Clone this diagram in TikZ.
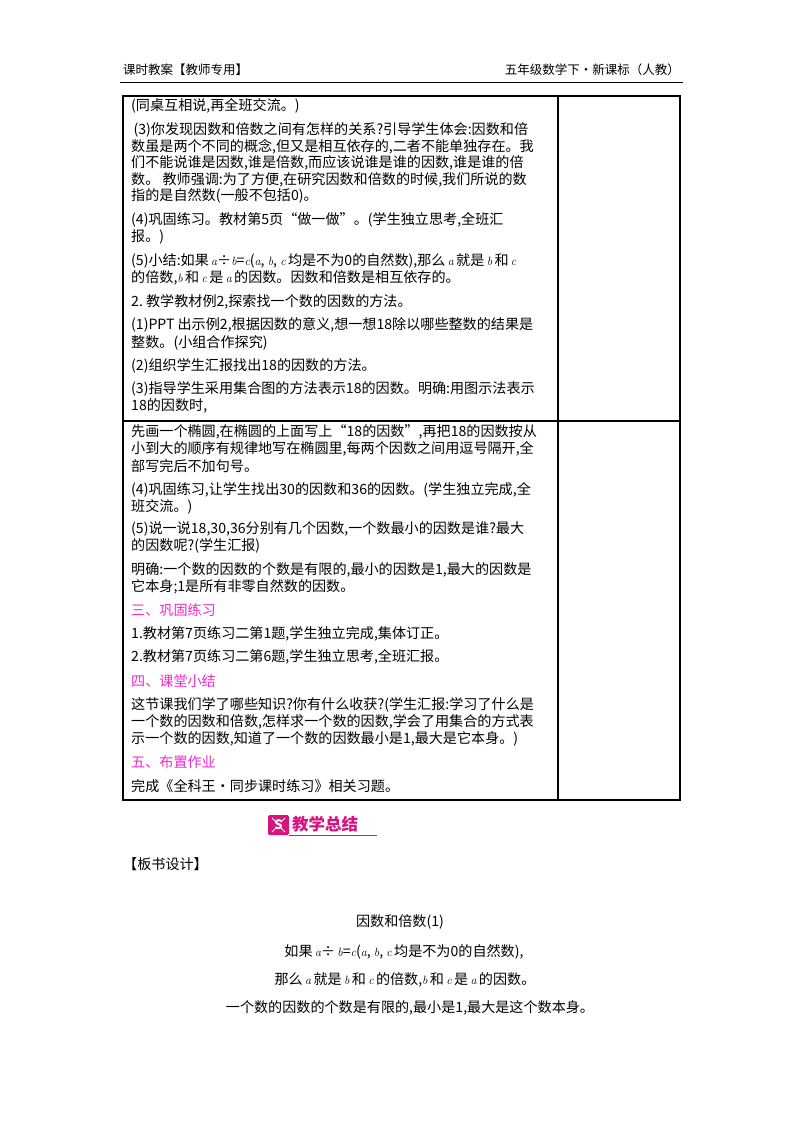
\documentclass[tikz,border=0pt]{standalone}
\usepackage{fontspec}
\setmainfont{Noto Sans CJK SC}
\newfontfamily\latinf{Latin Modern Roman}
\definecolor{pinkc}{HTML}{F02BD0}
\definecolor{logoc}{HTML}{D8127E}
\tikzset{
  tl/.style={anchor=west,inner sep=0pt,font=\fontsize{14.1}{16}\selectfont},
  hd/.style={tl,text=pinkc},
  ct/.style={anchor=center,inner sep=0pt,font=\fontsize{14.1}{16}\selectfont},
  frame/.style={line width=1.1pt}
}
\newcommand{\mi}[1]{{\latinf\itshape\large #1}}
\begin{document}
\begin{tikzpicture}[x=1pt,y=-1pt]
\useasboundingbox (0,0) rectangle (800,1132);
\fill[white] (0,0) rectangle (800,1132);
% header
\node[tl,font=\fontsize{12.5}{14}\selectfont] (h1) at (123,70) {课时教案【教师专用】};
\node[anchor=east,inner sep=0pt,font=\fontsize{12.5}{14}\selectfont] (h2) at (680,70) {五年级数学下·新课标（人教）};
\draw[line width=1pt] (120,82) -- (683,82);
% table
\draw[frame] (123,96) rectangle (680,800);
\draw[frame] (558,96) -- (558,800);
\draw[frame] (123,421) -- (680,421);
% upper block
\node[tl] (l1) at (131,106) {(同桌互相说,再全班交流。)};
\node[tl] (l2) at (131,130) {\,(3)你发现因数和倍数之间有怎样的关系?引导学生体会:因数和倍};
\node[tl] (l3) at (131,146.5) {数虽是两个不同的概念,但又是相互依存的,二者不能单独存在。我};
\node[tl] (l4) at (131,163) {们不能说谁是因数,谁是倍数,而应该说谁是谁的因数,谁是谁的倍};
\node[tl] (l5) at (131,179.5) {数。\ 教师强调:为了方便,在研究因数和倍数的时候,我们所说的数};
\node[tl] (l6) at (131,196) {指的是自然数(一般不包括0)。};
\node[tl] (l7) at (131,219.5) {(4)巩固练习。教材第5页“做一做”。(学生独立思考,全班汇};
\node[tl] (l8) at (131,236.5) {报。)};
\node[tl] (l9) at (131,261) {(5)小结:如果\,\mi{a}÷\mi{b}=\mi{c}(\mi{a}, \mi{b}, \mi{c}\,均是不为0的自然数),那么\,\mi{a}\,就是\,\mi{b}\,和\,\mi{c}};
\node[tl] (l10) at (131,278) {的倍数,\mi{b}\,和\,\mi{c}\,是\,\mi{a}\,的因数。因数和倍数是相互依存的。};
\node[tl] (l11) at (131,302) {2.\ 教学教材例2,探索找一个数的因数的方法。};
\node[tl] (l12) at (131,325) {(1)PPT 出示例2,根据因数的意义,想一想18除以哪些整数的结果是};
\node[tl] (l13) at (131,342.5) {整数。(小组合作探究)};
\node[tl] (l14) at (131,366) {(2)组织学生汇报找出18的因数的方法。};
\node[tl] (l15) at (131,389) {(3)指导学生采用集合图的方法表示18的因数。明确:用图示法表示};
\node[tl] (l16) at (131,406) {18的因数时,};
% lower block
\node[tl] (m1) at (131,432) {先画一个椭圆,在椭圆的上面写上“18的因数”,再把18的因数按从};
\node[tl] (m2) at (131,449) {小到大的顺序有规律地写在椭圆里,每两个因数之间用逗号隔开,全};
\node[tl] (m3) at (131,466) {部写完后不加句号。};
\node[tl] (m4) at (131,489.5) {(4)巩固练习,让学生找出30的因数和36的因数。(学生独立完成,全};
\node[tl] (m5) at (131,506.5) {班交流。)};
\node[tl] (m6) at (131,529) {(5)说一说18,30,36分别有几个因数,一个数最小的因数是谁?最大};
\node[tl] (m7) at (131,546) {的因数呢?(学生汇报)};
\node[tl] (m8) at (131,569.5) {明确:一个数的因数的个数是有限的,最小的因数是1,最大的因数是};
\node[tl] (m9) at (131,586.5) {它本身;1是所有非零自然数的因数。};
\node[hd] (s3) at (131,610) {三、巩固练习};
\node[tl] (m10) at (131,633.5) {1.教材第7页练习二第1题,学生独立完成,集体订正。};
\node[tl] (m11) at (131,657) {2.教材第7页练习二第6题,学生独立思考,全班汇报。};
\node[hd] (s4) at (131,681) {四、课堂小结};
\node[tl] (m12) at (131,704.5) {这节课我们学了哪些知识?你有什么收获?(学生汇报:学习了什么是};
\node[tl] (m13) at (131,721.5) {一个数的因数和倍数,怎样求一个数的因数,学会了用集合的方式表};
\node[tl] (m14) at (131,738.5) {示一个数的因数,知道了一个数的因数最小是1,最大是它本身。)};
\node[hd] (s5) at (131,762) {五、布置作业};
\node[tl] (m15) at (131,786) {完成《全科王·同步课时练习》相关习题。};
% logo
\fill[logoc,rounded corners=1.5pt] (268,815) rectangle (289,835);
\node[inner sep=0pt,text=white,font=\bfseries\fontsize{13}{13}\selectfont] (logo) at (278.5,825) {S};
\draw[white,line width=0.8pt] (272,818) -- (276,822) (285,818) -- (281,822) (272,832) -- (276,828) (285,832) -- (281,828);
\node[anchor=west,inner sep=0pt,text=logoc,font=\bfseries\fontsize{16.5}{18}\selectfont] (title) at (292,824) {教学总结};
\draw[logoc,line width=0.8pt] (289,835.5) -- (377,835.5);
% board design
\node[tl] (bs) at (123,864) {【板书设计】};
\node[ct] (b1) at (400,922) {因数和倍数(1)};
\node[ct] (b2) at (404,952) {如果\,\mi{a}÷\,\mi{b}=\mi{c}(\mi{a}, \mi{b}, \mi{c}\,均是不为0的自然数),};
\node[ct] (b3) at (405,980) {那么\,\mi{a}\,就是\,\mi{b}\,和\,\mi{c}\,的倍数,\mi{b}\,和\,\mi{c}\,是\,\mi{a}\,的因数。};
\node[ct] (b4) at (410,1008) {一个数的因数的个数是有限的,最小是1,最大是这个数本身。};
\end{tikzpicture}
\end{document}
